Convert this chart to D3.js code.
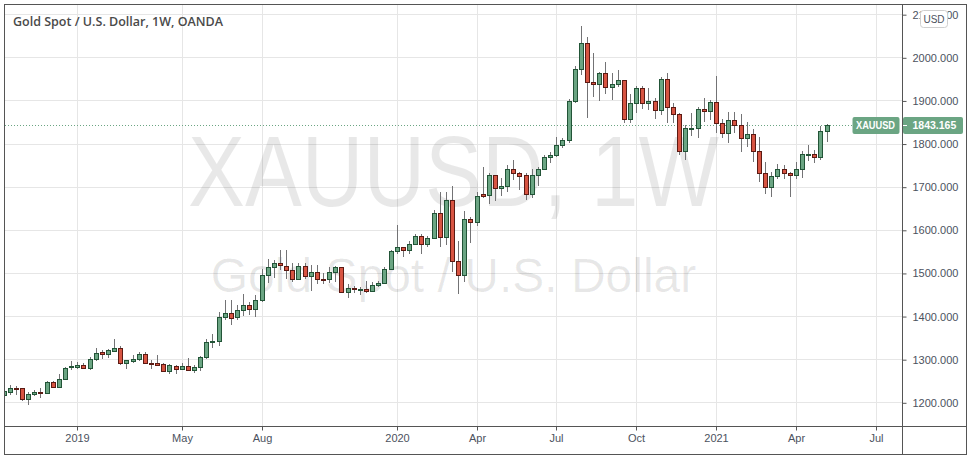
<!DOCTYPE html>
<html>
<head>
<meta charset="utf-8">
<script src="https://cdn.jsdelivr.net/npm/d3@7"></script>
<style>
  body { margin: 0; background: #fff; }
  svg { display: block; font-family: "Liberation Sans", Arial, sans-serif; }
</style>
</head>
<body>
<div id="chart"></div>
<script>
// weekly OANDA bars, first bar = week of 15 Oct 2018
const firstWeek = "2018-10-15";

const opens = [
  1216,1225,1233,1232,1208,1219,1224,1221,1246,1236,
  1255,1281,1283,1286,1280,1301,1317,1313,1319,1327,
  1292,1296,1301,1311,1292,1291,1288,1273,1285,1278,
  1285,1276,1283,1304,1339,1342,1397,1408,1397,1414,
  1425,1417,1438,1495,1513,1524,1517,1506,1487,1516,
  1494,1503,1487,1487,1502,1513,1456,1466,1461,1462,
  1458,1473,1476,1508,1550,1559,1554,1568,1586,1568,
  1582,1640,1584,1670,1527,1496,1626,1617,1682,1680,
  1726,1698,1701,1740,1731,1726,1682,1728,1742,1768,
  1773,1796,1808,1899,1972,2032,1942,1937,1963,1930,
  1937,1947,1858,1895,1928,1895,1899,1878,1949,1885,
  1868,1783,1834,1835,1879,1876,1896,1847,1825,1854,
  1844,1812,1821,1782,1731,1700,1724,1742,1731,1726,
  1740,1774,1775,1769,1829
];
const highs = [
  1230,1240,1237,1234,1224,1228,1232,1250,1249,1265,
  1283,1296,1294,1290,1304,1325,1321,1323,1346,1330,
  1299,1309,1317,1317,1298,1309,1290,1288,1286,1291,
  1302,1286,1307,1346,1359,1410,1437,1437,1425,1451,
  1433,1448,1508,1533,1530,1553,1554,1522,1522,1522,
  1518,1518,1499,1514,1516,1514,1474,1469,1468,1482,
  1479,1482,1514,1553,1611,1561,1574,1590,1590,1585,
  1646,1688,1688,1701,1575,1643,1630,1687,1746,1731,
  1727,1719,1750,1763,1735,1731,1742,1745,1773,1781,
  1816,1812,1903,1980,2073,2048,2011,1967,1988,1963,
  1971,1948,1915,1933,1933,1928,1905,1955,1963,1893,
  1870,1843,1872,1884,1905,1901,1957,1858,1873,1873,
  1868,1851,1833,1816,1758,1734,1752,1750,1734,1758,
  1783,1796,1786,1840,1845
];
const lows = [
  1213,1216,1216,1203,1193,1215,1209,1219,1232,1234,
  1253,1276,1278,1277,1275,1296,1301,1302,1317,1287,
  1278,1290,1296,1288,1278,1284,1270,1265,1265,1276,
  1273,1268,1273,1301,1325,1331,1390,1379,1390,1400,
  1403,1398,1433,1477,1489,1506,1487,1479,1483,1485,
  1458,1474,1474,1477,1479,1454,1443,1454,1448,1454,
  1456,1468,1474,1506,1545,1537,1545,1564,1545,1559,
  1578,1561,1565,1503,1450,1479,1570,1609,1673,1659,
  1667,1679,1688,1715,1692,1669,1673,1701,1738,1754,
  1769,1789,1802,1893,1959,1860,1909,1899,1915,1902,
  1932,1847,1847,1870,1879,1878,1856,1866,1847,1847,
  1773,1762,1817,1814,1851,1855,1824,1813,1801,1825,
  1781,1793,1758,1711,1684,1675,1717,1717,1675,1717,
  1721,1760,1754,1763,1804
];
const closes = [
  1226,1232,1232,1207,1220,1224,1221,1246,1236,1255,
  1280,1284,1286,1280,1301,1315,1313,1321,1327,1292,
  1298,1301,1311,1290,1291,1287,1273,1286,1278,1285,
  1274,1283,1304,1339,1341,1397,1408,1396,1414,1425,
  1417,1438,1495,1513,1524,1518,1506,1487,1516,1494,
  1503,1487,1486.5,1502,1513,1456,1466,1462,1462,1458,
  1473,1477,1508,1550,1559,1554,1568,1586,1568,1582,
  1640,1584,1670,1527,1496,1626,1617,1679,1679,1726,
  1698,1701,1740,1731,1725,1682,1728,1742,1768,1773,
  1796,1808,1899,1972,2032,1942,1938,1963,1930,1937,
  1947,1858,1895,1928,1895,1899,1878,1949,1885,1868,
  1783,1835,1837,1879,1876,1896,1847,1825,1854,1844,
  1812,1821,1782,1731,1700,1724,1742,1731,1726,1740,
  1775,1775,1769,1829,1843.165
];

const priceTicks = [1200, 1300, 1400, 1500, 1600, 1700, 1800, 1900, 2000, 2100];
const timeTicks = ["2019-01-07", "2019-05-06", "2019-08-05", "2020-01-06", "2020-04-06",
                   "2020-07-06", "2020-10-05", "2021-01-04", "2021-04-05", "2021-07-05"];
const timeTickLabels = ["2019", "May", "Aug", "2020", "Apr", "Jul", "Oct", "2021", "Apr", "Jul"];
const symbol = "XAUUSD";
const lastPrice = closes[closes.length - 1];

const width = 973, height = 458;
const plot = {left: 5, right: 902, top: 5, bottom: 426};
const frame = {left: 4.5, right: 966.5, top: 4.5, bottom: 454.5};

const upFill = "#6ba583", upLine = "#225437";
const downFill = "#d75442", downLine = "#5b1a13";
const wickColor = "#737375";
const gridColor = "#e6e6e6";
const axisColor = "#555";
const textColor = "#4c525e";

const parseDay = d3.timeParse("%Y-%m-%d");
const start = parseDay(firstWeek);
const bars = opens.map((o, i) => ({
  date: d3.timeMonday.offset(start, i),
  o: o, h: highs[i], l: lows[i], c: closes[i]
}));

const x = d3.scaleTime()
  .domain([parseDay("2019-01-07"), parseDay("2021-07-05")])
  .range([77.3, 875.7]);
const y = d3.scaleLinear()
  .domain([1200, 2000])
  .range([402.3, 57.3]);

const svg = d3.select("#chart").append("svg")
  .attr("width", width)
  .attr("height", height);

svg.append("defs").append("clipPath").attr("id", "plotclip")
  .append("rect")
  .attr("x", plot.left).attr("y", plot.top)
  .attr("width", plot.right - plot.left).attr("height", plot.bottom - plot.top);

const g = svg.append("g").attr("clip-path", "url(#plotclip)");

// grid
g.selectAll(".hgrid").data(priceTicks).enter().append("line")
  .attr("x1", plot.left).attr("x2", plot.right)
  .attr("y1", d => Math.round(y(d)) + 0.5).attr("y2", d => Math.round(y(d)) + 0.5)
  .attr("stroke", gridColor);
g.selectAll(".vgrid").data(timeTicks).enter().append("line")
  .attr("x1", d => Math.round(x(parseDay(d))) + 0.5).attr("x2", d => Math.round(x(parseDay(d))) + 0.5)
  .attr("y1", plot.top).attr("y2", plot.bottom)
  .attr("stroke", gridColor);

// watermark
const midX = (plot.left + plot.right) / 2;
g.append("text")
  .attr("x", midX).attr("y", 206)
  .attr("text-anchor", "middle")
  .attr("font-size", 101)
  .attr("textLength", 531).attr("lengthAdjust", "spacingAndGlyphs")
  .attr("fill", "rgba(0,0,0,0.09)")
  .text(symbol + ", 1W");
g.append("text")
  .attr("x", midX).attr("y", 292)
  .attr("text-anchor", "middle")
  .attr("font-size", 48)
  .attr("fill", "rgba(0,0,0,0.09)")
  .text("Gold Spot / U.S. Dollar");

// last price dotted line
const lastY = Math.round(y(lastPrice)) + 0.5;
g.append("line")
  .attr("x1", plot.left).attr("x2", 852)
  .attr("y1", lastY).attr("y2", lastY)
  .attr("stroke", upFill)
  .attr("stroke-dasharray", "1 2");

// candles
const candle = g.selectAll(".candle").data(bars).enter().append("g");
candle.append("line")
  .attr("x1", d => Math.round(x(d.date)) + 0.5)
  .attr("x2", d => Math.round(x(d.date)) + 0.5)
  .attr("y1", d => Math.round(y(d.h)))
  .attr("y2", d => Math.round(y(d.l)))
  .attr("stroke", wickColor);
candle.append("rect")
  .attr("x", d => Math.round(x(d.date)) - 1.5)
  .attr("width", 4)
  .attr("y", d => Math.round(y(Math.max(d.o, d.c))) + 0.5)
  .attr("height", d => Math.max(1, Math.round(y(Math.min(d.o, d.c))) - Math.round(y(Math.max(d.o, d.c)))))
  .attr("fill", d => d.c >= d.o ? upFill : downFill)
  .attr("stroke", d => d.c >= d.o ? upLine : downLine);

// price axis
const yAxis = d3.axisRight(y)
  .tickValues(priceTicks)
  .tickFormat(d3.format(".3f"))
  .tickSize(4)
  .tickPadding(6);
const ya = svg.append("g")
  .attr("transform", `translate(${plot.right + 0.5},0.5)`)
  .call(yAxis);
ya.select(".domain").remove();
ya.selectAll(".tick line").attr("stroke", axisColor);
ya.selectAll(".tick text").attr("fill", textColor).attr("font-size", 11)
  .attr("font-family", "'Liberation Sans', Arial, sans-serif");

// time axis
const xAxis = d3.axisBottom(x)
  .tickValues(timeTicks.map(parseDay))
  .tickFormat((d, i) => timeTickLabels[i])
  .tickSize(4)
  .tickPadding(4);
const xa = svg.append("g")
  .attr("transform", `translate(0.5,${plot.bottom + 0.5})`)
  .call(xAxis);
xa.select(".domain").remove();
xa.selectAll(".tick").attr("transform", d => `translate(${Math.round(x(d))},0)`);
xa.selectAll(".tick line").attr("stroke", axisColor);
xa.selectAll(".tick text").attr("fill", textColor).attr("font-size", 11)
  .attr("font-family", "'Liberation Sans', Arial, sans-serif");

// frame
const fr = svg.append("g").attr("stroke", axisColor).attr("fill", "none");
fr.append("rect")
  .attr("x", frame.left).attr("y", frame.top)
  .attr("width", frame.right - frame.left).attr("height", frame.bottom - frame.top);
fr.append("line").attr("x1", plot.right + 0.5).attr("x2", plot.right + 0.5)
  .attr("y1", frame.top).attr("y2", frame.bottom);
fr.append("line").attr("x1", frame.left).attr("x2", frame.right)
  .attr("y1", plot.bottom + 0.5).attr("y2", plot.bottom + 0.5);

// last price labels
const boxTop = lastY - 8.5;
svg.append("rect")
  .attr("x", 852.5).attr("y", boxTop).attr("width", 47).attr("height", 17).attr("rx", 2)
  .attr("fill", upFill);
svg.append("text")
  .attr("x", 856).attr("y", lastY).attr("dy", "0.35em")
  .attr("font-size", 10.5).attr("font-weight", "bold")
  .attr("textLength", 39).attr("lengthAdjust", "spacingAndGlyphs")
  .attr("fill", "#fff").text(symbol);
svg.append("rect")
  .attr("x", plot.right + 1).attr("y", boxTop).attr("width", 60).attr("height", 17).attr("rx", 2)
  .attr("fill", upFill);
svg.append("line")
  .attr("x1", plot.right + 1).attr("x2", plot.right + 5)
  .attr("y1", lastY).attr("y2", lastY).attr("stroke", "#fff");
svg.append("text")
  .attr("x", 912.5).attr("y", lastY).attr("dy", "0.35em")
  .attr("font-size", 10.5).attr("font-weight", "bold")
  .attr("fill", "#fff").text(d3.format(".3f")(lastPrice));

// currency badge (covers the top price label, as in the original)
svg.append("rect")
  .attr("x", 920.5).attr("y", 10.5).attr("width", 27).attr("height", 17).attr("rx", 3)
  .attr("fill", "#fff").attr("stroke", "#cfcfcf");
svg.append("text")
  .attr("x", 934).attr("y", 19).attr("dy", "0.35em")
  .attr("text-anchor", "middle").attr("font-size", 10)
  .attr("fill", textColor).text("USD");

// title
svg.append("text")
  .attr("x", 13).attr("y", 26)
  .attr("font-family", "'Open Sans', sans-serif")
  .attr("font-size", 12.5).attr("font-weight", 600)
  .attr("fill", "#4a4a4a")
  .text("Gold Spot / U.S. Dollar, 1W, OANDA");
</script>
</body>
</html>
